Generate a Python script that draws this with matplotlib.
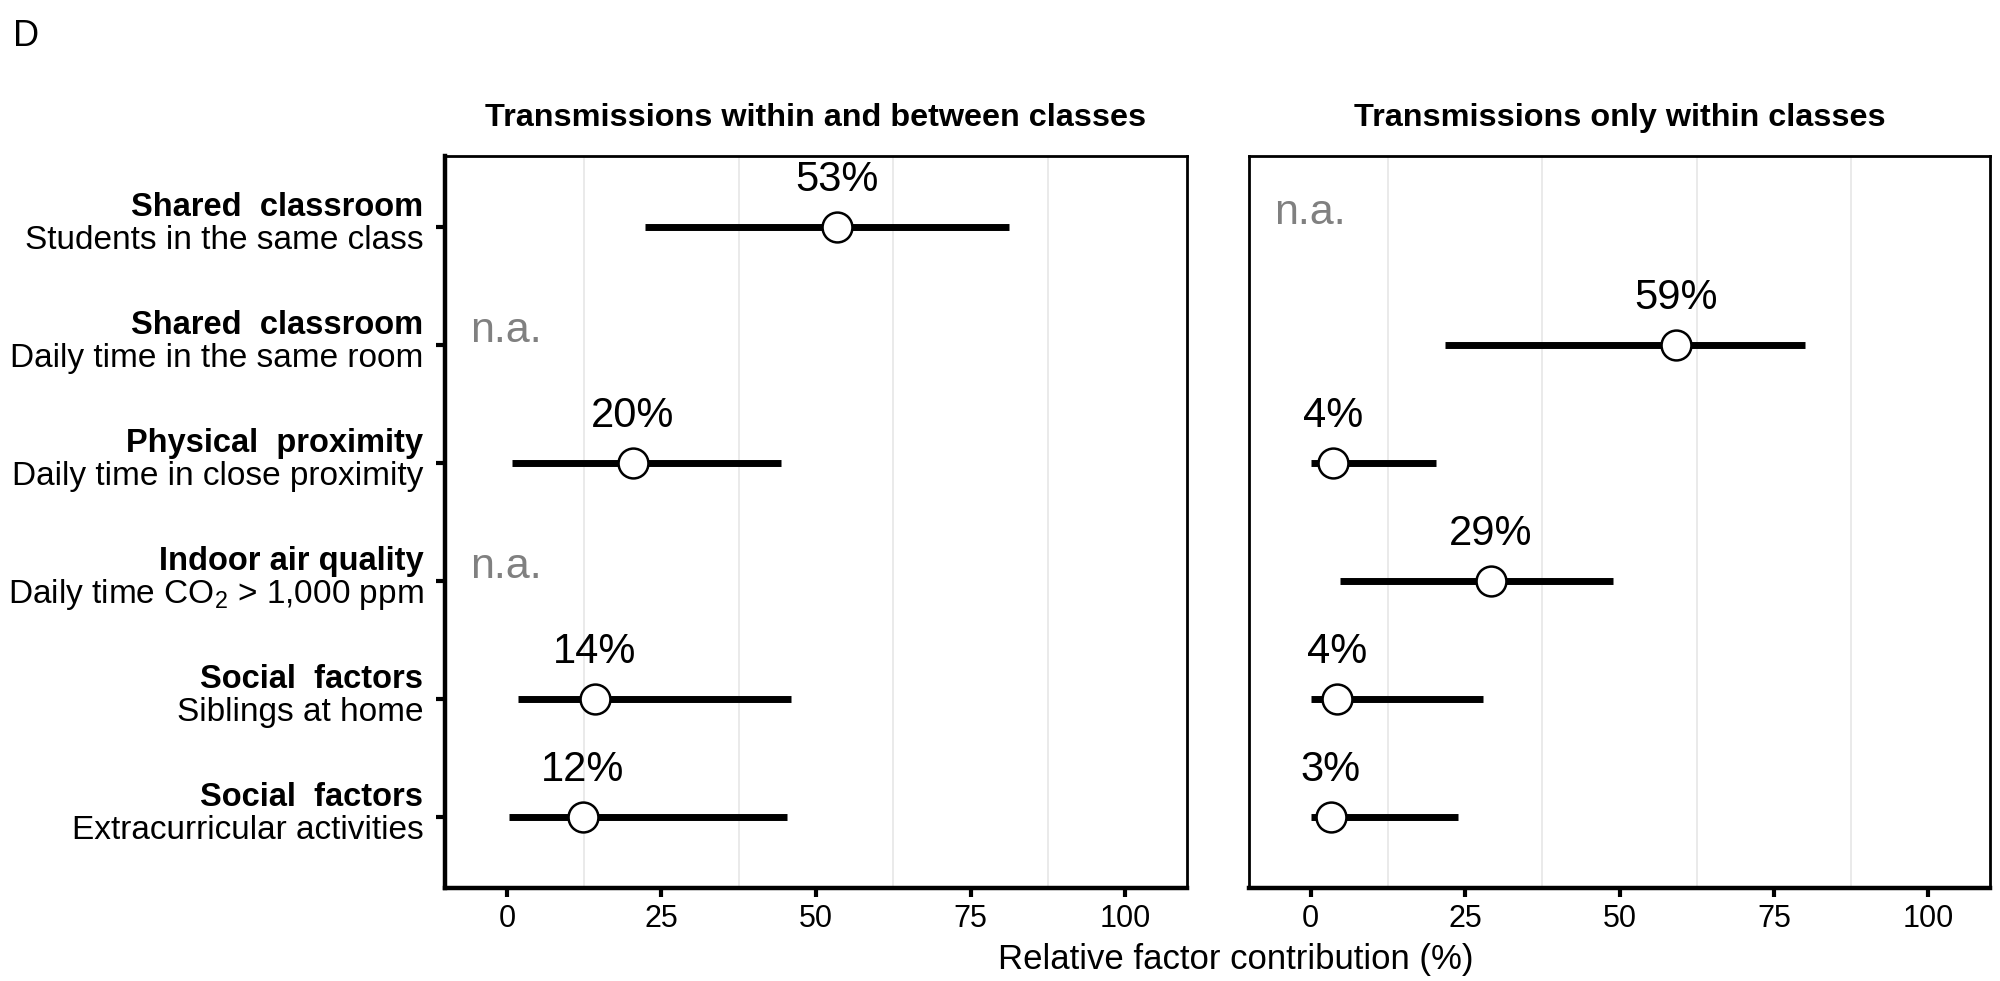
import matplotlib
matplotlib.use("Agg")
import matplotlib.pyplot as plt
import matplotlib.transforms as mtransforms
import numpy as np

plt.rcParams['font.family'] = ['Liberation Sans', 'DejaVu Sans']
plt.rcParams['mathtext.fontset'] = 'custom'
plt.rcParams['mathtext.rm'] = 'Liberation Sans'
plt.rcParams['mathtext.bf'] = 'Liberation Sans:bold'

# factor labels (bold heading + description)
factor_names = ["Shared  classroom", "Shared  classroom", "Physical  proximity",
                "Indoor air quality", "Social  factors", "Social  factors"]
factor_desc = ["Students in the same class", "Daily time in the same room",
               "Daily time in close proximity", "Daily time CO$_2$ > 1,000 ppm",
               "Siblings at home", "Extracurricular activities"]

panel_titles = ["Transmissions within and between classes",
                "Transmissions only within classes"]

nan = np.nan
# within and between classes
left_est = [53.4, nan, 20.4, nan, 14.2, 12.3]
left_lo = [22.4, nan, 0.8, nan, 1.8, 0.3]
left_hi = [81.2, nan, 44.3, nan, 46.0, 45.3]
# only within classes
right_est = [nan, 59.1, 3.6, 29.2, 4.2, 3.2]
right_lo = [nan, 21.7, 0.0, 4.8, 0.0, 0.0]
right_hi = [nan, 80.1, 20.3, 49.0, 27.9, 23.8]

x_ticks = [0, 25, 50, 75, 100]
grid_x = [12.5, 37.5, 62.5, 87.5]

fig = plt.figure(figsize=(20, 9.81), dpi=100)
ax1 = fig.add_axes([0.2225, 0.0948, 0.371, 0.746])
ax2 = fig.add_axes([0.6245, 0.0948, 0.3705, 0.746])

rows = np.arange(1, len(factor_names) + 1)

for ax, est, lo, hi, title in [(ax1, left_est, left_lo, left_hi, panel_titles[0]),
                               (ax2, right_est, right_lo, right_hi, panel_titles[1])]:
    for g in grid_x:
        ax.axvline(g, color='#e4e4e4', lw=1.1, zorder=0)
    for y, e, l, h in zip(rows, est, lo, hi):
        if np.isnan(e):
            ax.text(-6, y - 0.12, "n.a.", color='#808080', fontsize=31,
                    ha='left', va='center')
            continue
        ax.plot([l, h], [y, y], color='black', lw=5, solid_capstyle='butt', zorder=2)
        ax.plot(e, y, 'o', ms=21.5, mfc='white', mec='black', mew=1.8, zorder=3)
        ax.text(e, y - 0.40, f"{round(e)}%", fontsize=30, ha='center', va='center')
    ax.set_xlim(-10, 110)
    ax.set_ylim(6.6, 0.4)
    ax.set_xticks(x_ticks)
    ax.set_xticklabels([str(t) for t in x_ticks], fontsize=22)
    ax.tick_params(axis='x', length=6.5, width=3, pad=5)
    for s in ax.spines.values():
        s.set_linewidth(2)
    ax.spines['bottom'].set_linewidth(3.2)
    t = ax.text(0.5, 1.0, title, fontsize=23.3, fontweight='bold',
                ha='center', va='baseline')
    t.set_transform(ax.transAxes + mtransforms.ScaledTranslation(0, 22 / 72, fig.dpi_scale_trans))

ax1.spines['left'].set_linewidth(3.2)
ax1.set_yticks(rows)
ax1.set_yticklabels([])
ax1.tick_params(axis='y', length=6.5, width=3)
ax2.set_yticks([])

for y, name, desc in zip(rows, factor_names, factor_desc):
    ax1.annotate(name, xy=(0, y), xycoords=('axes fraction', 'data'),
                 xytext=(-15.5, 8), textcoords='offset points',
                 ha='right', va='baseline', fontsize=23.5, fontweight='bold')
    ax1.annotate(desc, xy=(0, y), xycoords=('axes fraction', 'data'),
                 xytext=(-15.5, -16), textcoords='offset points',
                 ha='right', va='baseline', fontsize=24)

fig.text(0.618, 0.0224, "Relative factor contribution (%)", fontsize=25,
         ha='center', va='center')
fig.text(0.0065, 0.963, "D", fontsize=26, ha='left', va='center')

fig.savefig("out.png", dpi=100, facecolor='white')
